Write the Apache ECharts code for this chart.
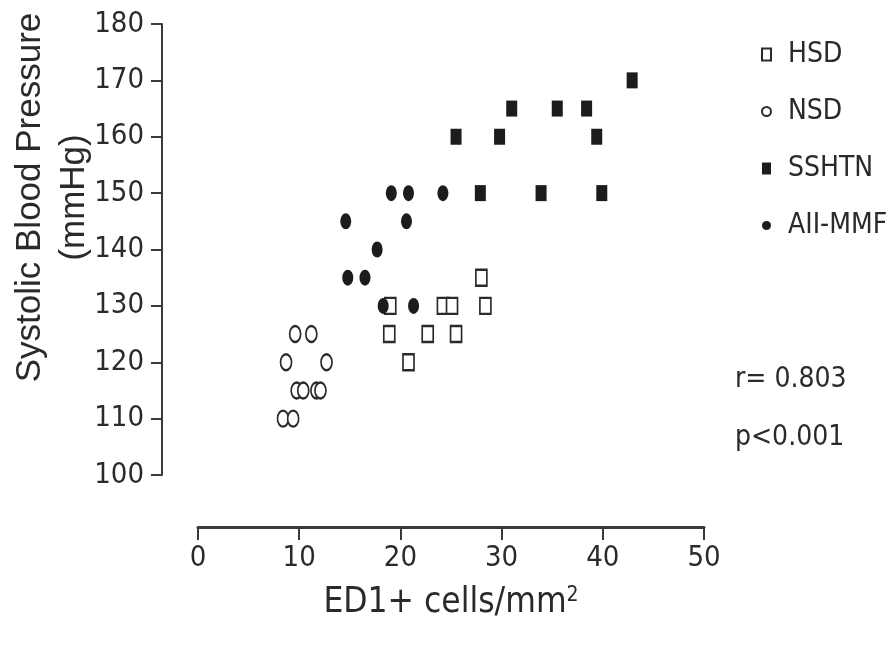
<!DOCTYPE html>
<html>
<head>
<meta charset="utf-8">
<script src="https://cdn.jsdelivr.net/npm/echarts@6/dist/echarts.min.js"></script>
<style>
  html, body { margin: 0; padding: 0; background: #fff; }
  #chart { width: 888px; height: 652px; }
</style>
</head>
<body>
<div id="chart"></div>
<script>
// data: [ED1+ cells/mm2, systolic BP]
var groupNames = ['HSD', 'NSD', 'SSHTN', 'AII-MMF'];
var hsd = [[28.0, 135], [19.0, 130], [24.2, 130], [25.1, 130], [28.4, 130],
           [18.9, 125], [22.7, 125], [25.5, 125], [20.8, 120]];
var nsd = [[9.6, 125], [11.2, 125], [8.7, 120], [12.7, 120],
           [9.75, 115], [10.4, 115], [11.7, 115], [12.1, 115], [8.4, 110], [9.4, 110]];
var sshtn = [[42.9, 170], [31.0, 165], [35.5, 165], [38.4, 165],
             [25.5, 160], [29.8, 160], [39.4, 160], [27.9, 150], [33.9, 150], [39.9, 150]];
var aiiMmf = [[19.1, 150], [20.8, 150], [24.2, 150], [14.6, 145], [20.6, 145],
              [17.7, 140], [14.8, 135], [16.5, 135], [18.3, 130], [21.3, 130]];
var stats = ['r= 0.803', 'p<0.001'];

var narrow = "'Liberation Sans Narrow', 'DejaVu Sans Condensed', sans-serif";
var ink = '#2a2a2a';

var myChart = echarts.init(document.getElementById('chart'));

function hollow(name, symbol, data) {
    return {
        name: name, type: 'scatter', symbol: symbol, symbolSize: [11, 16],
        itemStyle: { color: '#fff', borderColor: ink, borderWidth: 2, opacity: 1 },
        data: data
    };
}
function filled(name, symbol, data) {
    return {
        name: name, type: 'scatter', symbol: symbol, symbolSize: [11, 16],
        itemStyle: { color: '#1c1c1c', opacity: 1 },
        data: data
    };
}

option = {
    backgroundColor: '#fff',
    animation: false,
    grid: { left: 198, top: 24, width: 506, height: 451, containLabel: false, outerBoundsMode: 'none' },
    legend: {
        orient: 'vertical',
        left: 756, top: 34,
        itemWidth: 9, itemHeight: 12,
        itemGap: 26,
        textStyle: { fontFamily: narrow, fontSize: 28, color: ink, lineHeight: 31, padding: [0, 0, 0, 12] },
        data: [
            { name: 'HSD', icon: 'rect' },
            { name: 'NSD', icon: 'circle' },
            { name: 'SSHTN', icon: 'rect' },
            { name: 'AII-MMF', icon: 'circle' }
        ]
    },
    xAxis: {
        type: 'value', min: 0, max: 50, interval: 10,
        offset: 52,
        splitLine: { show: false },
        axisLine: { onZero: false, lineStyle: { color: '#3a3a3a', width: 3 } },
        axisTick: { inside: false, length: 13, lineStyle: { color: '#3a3a3a', width: 2 } },
        axisLabel: { fontFamily: narrow, fontSize: 29, color: ink, margin: 17 },
        name: 'ED1+ cells/mm{sup|2}',
        nameLocation: 'middle', nameGap: 58, nameMoveOverlap: false,
        nameTextStyle: {
            fontFamily: narrow, fontSize: 35, color: ink,
            rich: { sup: { fontFamily: narrow, fontSize: 21, color: ink, verticalAlign: 'top', padding: [0, 0, 14, 0] } }
        }
    },
    yAxis: {
        type: 'value', min: 100, max: 180, interval: 10,
        offset: 36,
        splitLine: { show: false },
        axisLine: { onZero: false, lineStyle: { color: '#3a3a3a', width: 2 } },
        axisTick: { length: 11, lineStyle: { color: '#3a3a3a', width: 2 } },
        axisLabel: { fontFamily: narrow, fontSize: 29, color: ink, margin: 18 },
        name: 'Systolic Blood Pressure\n(mmHg)',
        nameLocation: 'middle', nameGap: 66, nameRotate: 90, nameMoveOverlap: false,
        nameTextStyle: {
            fontFamily: "'Liberation Sans', Arial, sans-serif", fontSize: 35, color: ink,
            lineHeight: 44, align: 'center', padding: [0, 0, 0, 104]
        }
    },
    graphic: [
        { type: 'text', left: 735, top: 366, style: { text: stats[0], font: "28px " + narrow, fill: ink } },
        { type: 'text', left: 735, top: 424, style: { text: stats[1], font: "28px " + narrow, fill: ink } }
    ],
    series: [
        hollow(groupNames[0], 'rect', hsd),
        hollow(groupNames[1], 'circle', nsd),
        filled(groupNames[2], 'rect', sshtn),
        filled(groupNames[3], 'circle', aiiMmf)
    ]
};

myChart.setOption(option);
</script>
</body>
</html>
